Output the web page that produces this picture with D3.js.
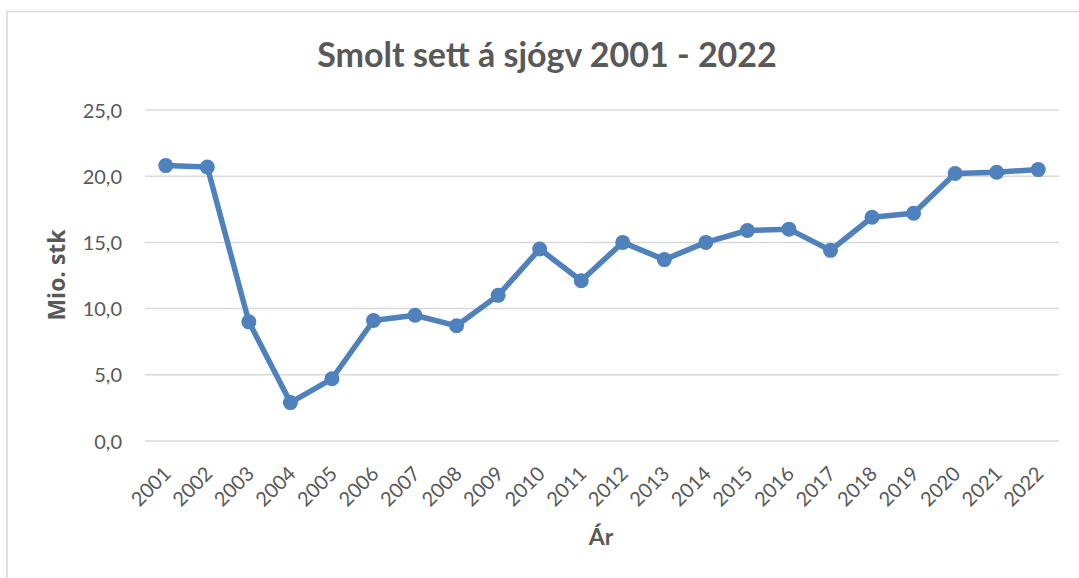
<!DOCTYPE html>
<html>
<head>
<meta charset="utf-8">
<script src="https://cdn.jsdelivr.net/npm/d3@7"></script>
<style>
  html, body { margin: 0; padding: 0; background: #fff; }
  svg { display: block; font-family: Lato, "Open Sans", sans-serif; }
</style>
</head>
<body>
<svg id="chart" width="1079" height="578"></svg>
<script>
const years = ["2001","2002","2003","2004","2005","2006","2007","2008","2009","2010","2011","2012","2013","2014","2015","2016","2017","2018","2019","2020","2021","2022"];
const smolt = [20.8, 20.7, 9.0, 2.9, 4.7, 9.1, 9.5, 8.7, 11.0, 14.5, 12.1, 15.0, 13.7, 15.0, 15.9, 16.0, 14.4, 16.9, 17.2, 20.2, 20.3, 20.5];
const yTicks = [0, 5, 10, 15, 20, 25];
const titleText = "Smolt sett á sjógv 2001 - 2022";
const yTitle = "Mio. stk";
const xTitle = "Ár";

const svg = d3.select("#chart");
const W = 1079, H = 578;
const plot = { left: 145, right: 1059, top: 110, bottom: 441 };

// chart border
svg.append("path")
  .attr("d", `M7,${H} V11.5 H${W}`)
  .attr("fill", "none").attr("stroke", "#d9d9d9").attr("stroke-width", 1.5);

const x = d3.scalePoint().domain(years).range([plot.left, plot.right]).padding(0.5);
const y = d3.scaleLinear().domain([0, 25]).range([plot.bottom, plot.top]);

// gridlines
svg.append("g").selectAll("line").data(yTicks).join("line")
  .attr("x1", plot.left).attr("x2", plot.right)
  .attr("y1", d => y(d)).attr("y2", d => y(d))
  .attr("stroke", "#d9d9d9").attr("stroke-width", 1.5);

// y axis
const yAxis = d3.axisLeft(y).tickValues(yTicks).tickSize(0).tickPadding(0)
  .tickFormat(d => d3.format(".1f")(d).replace(".", ","));
const gy = svg.append("g").attr("transform", `translate(${plot.left - 23},0)`).call(yAxis);
gy.select(".domain").remove();
gy.selectAll("text").attr("fill", "#595959").attr("font-size", 20).attr("dy", "0.35em")
  .style("font-family", "Lato, sans-serif");

// x axis
const xAxis = d3.axisBottom(x).tickSize(0).tickPadding(0);
const gx = svg.append("g").attr("transform", `translate(0,${plot.bottom})`).call(xAxis);
gx.select(".domain").remove();
gx.selectAll("text")
  .attr("fill", "#595959").attr("font-size", 20)
  .attr("text-anchor", "end").attr("dy", 0).attr("y", 0)
  .attr("transform", "translate(6,34) rotate(-45)")
  .style("font-family", "Lato, sans-serif");

// line
const line = d3.line().x((d, i) => x(years[i])).y(d => y(d));
svg.append("path").datum(smolt)
  .attr("d", line).attr("fill", "none")
  .attr("stroke", "#4F81BD").attr("stroke-width", 5.5).attr("stroke-linejoin", "round");

svg.append("g").selectAll("circle").data(smolt).join("circle")
  .attr("cx", (d, i) => x(years[i])).attr("cy", d => y(d))
  .attr("r", 7.5).attr("fill", "#4F81BD");

// titles
svg.append("text").attr("x", 547).attr("y", 67).attr("text-anchor", "middle")
  .attr("font-size", 34).attr("font-weight", "bold").attr("fill", "#595959")
  .text(titleText);

svg.append("text").attr("transform", "translate(65,275) rotate(-90)")
  .attr("text-anchor", "middle").attr("font-size", 23).attr("font-weight", "bold")
  .attr("fill", "#595959").style("font-family", "'Open Sans', sans-serif").text(yTitle);

svg.append("text").attr("x", 601).attr("y", 545).attr("text-anchor", "middle")
  .attr("font-size", 23).attr("font-weight", "bold").attr("fill", "#595959")
  .text(xTitle);
</script>
</body>
</html>
